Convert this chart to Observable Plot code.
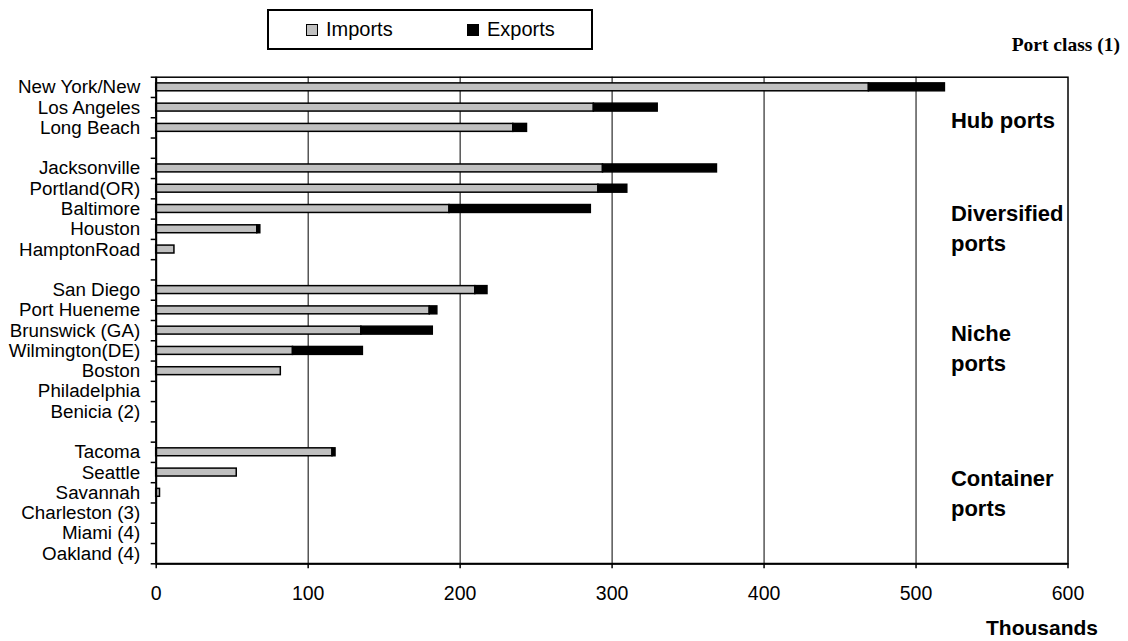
<!DOCTYPE html>
<html>
<head>
<meta charset="utf-8">
<script src="https://cdn.jsdelivr.net/npm/d3@7"></script>
<script src="https://cdn.jsdelivr.net/npm/@observablehq/plot@0.6"></script>
<style>
  html, body { margin: 0; padding: 0; background: #fff; }
  #page { position: relative; width: 1128px; height: 641px; overflow: hidden;
          font-family: "Liberation Sans", Arial, sans-serif; color: #000; }
  #header { position: relative; height: 60px; }
  #legend { position: absolute; left: 267px; top: 9px; width: 326px; height: 41px;
            box-sizing: border-box; border: 2px solid #000; background: #fff; }
  .item { position: absolute; top: 0; height: 37px; display: flex; align-items: center;
          font-size: 20px; }
  .swatch { width: 10px; height: 10px; border: 1.5px solid #000; margin-right: 8px; }
  #portclass { position: absolute; right: 8px; top: 34px; font-family: "Liberation Serif", "Times New Roman", serif;
               font-weight: bold; font-size: 19.5px; }
  #chart svg { display: block; }
</style>
</head>
<body>
<div id="page">
  <div id="header">
    <div id="legend"></div>
    <div id="portclass">Port class (1)</div>
  </div>
  <div id="chart"></div>
</div>
<script>
// Port names top to bottom; null marks the empty row between port classes
const ports = ["New York/New", "Los Angeles", "Long Beach", null,
  "Jacksonville", "Portland(OR)", "Baltimore", "Houston", "HamptonRoad", null,
  "San Diego", "Port Hueneme", "Brunswick (GA)", "Wilmington(DE)", "Boston", "Philadelphia", "Benicia (2)", null,
  "Tacoma", "Seattle", "Savannah", "Charleston (3)", "Miami (4)", "Oakland (4)"];

// Vehicle volumes, thousands
const imports = [469, 288, 235, null, 294, 291, 193, 66.5, 12, null,
  210, 180, 135, 90, 82, 0, 0, null, 116, 53, 2.5, 0, 0, 0];
const exports = [50, 42, 9, null, 75, 19, 93, 2, 0, null,
  8, 5, 47, 46, 0, 0, 0, null, 2, 0, 0, 0, 0, 0];

const seriesNames = ["Imports", "Exports"];
const seriesColors = ["#c0c0c0", "#000000"];
const classLabels = ["Hub ports", "Diversified\nports", "Niche\nports", "Container\nports"];
const xTicks = [0, 100, 200, 300, 400, 500, 600];

const rows = ports.map((port, i) => ({port, row: i, imports: imports[i], exports: exports[i]}));
const nRows = ports.length;

// Legend box
const legend = document.getElementById("legend");
const legendLeft = [37, 198];
seriesNames.forEach((name, k) => {
  const item = document.createElement("div");
  item.className = "item";
  item.style.left = legendLeft[k] + "px";
  const sw = document.createElement("span");
  sw.className = "swatch";
  sw.style.background = seriesColors[k];
  item.appendChild(sw);
  item.appendChild(document.createTextNode(name));
  legend.appendChild(item);
});

// Class label anchors, in row units
const classRows = [2.03, 7.35, 13.27, 20.42];

const chart = Plot.plot({
  width: 1128,
  height: 581,
  marginTop: 16.7,
  marginBottom: 77.7,
  marginLeft: 155.7,
  marginRight: 60.5,
  style: {fontFamily: "Liberation Sans, Arial, sans-serif", fontSize: "18px", color: "#000", background: "#fff"},
  x: {domain: [0, 600]},
  y: {domain: [0, nRows], reverse: true},
  marks: [
    Plot.ruleX(xTicks.filter(v => v > 0 && v < 600), {stroke: "#000", strokeWidth: 1}),
    Plot.frame({stroke: "#000", strokeWidth: 1.5}),
    // Imports bar from zero
    Plot.rectX(rows.filter(d => d.imports > 0), {
      x1: 0, x2: "imports",
      y1: d => d.row + 0.305, y2: d => d.row + 0.695,
      fill: seriesColors[0], stroke: "#000", strokeWidth: 1.5
    }),
    // Exports stacked after imports
    Plot.rectX(rows.filter(d => d.exports > 0), {
      x1: "imports", x2: d => d.imports + d.exports,
      y1: d => d.row + 0.305, y2: d => d.row + 0.695,
      fill: seriesColors[1], stroke: "#000", strokeWidth: 1.5
    }),
    Plot.ruleX([0], {stroke: "#000", strokeWidth: 2}),
    Plot.ruleY([nRows], {stroke: "#000", strokeWidth: 2}),
    Plot.axisY({ticks: d3.range(0, nRows + 1), tickSize: 5, tickFormat: () => "", strokeWidth: 1.5}),
    Plot.text(rows.filter(d => d.port), {
      x: 0, y: d => d.row + 0.5, text: "port",
      textAnchor: "end", dx: -16, fontSize: 18.8, fill: "#000"
    }),
    Plot.axisX({ticks: xTicks, tickSize: 5, tickPadding: 17, fontSize: 19.5, strokeWidth: 1.5, label: null}),
    Plot.text(classLabels, {
      x: 523, y: (d, i) => classRows[i], text: d => d,
      textAnchor: "start", lineAnchor: "middle", lineHeight: 1.38,
      fontSize: 22, fontWeight: "bold", fill: "#000"
    }),
    Plot.text(["Thousands"], {
      frameAnchor: "bottom-right", dx: -26, dy: 71, text: d => d,
      textAnchor: "middle", fontSize: 21, fontWeight: "bold", fill: "#000"
    })
  ]
});
document.getElementById("chart").appendChild(chart);
</script>
</body>
</html>
